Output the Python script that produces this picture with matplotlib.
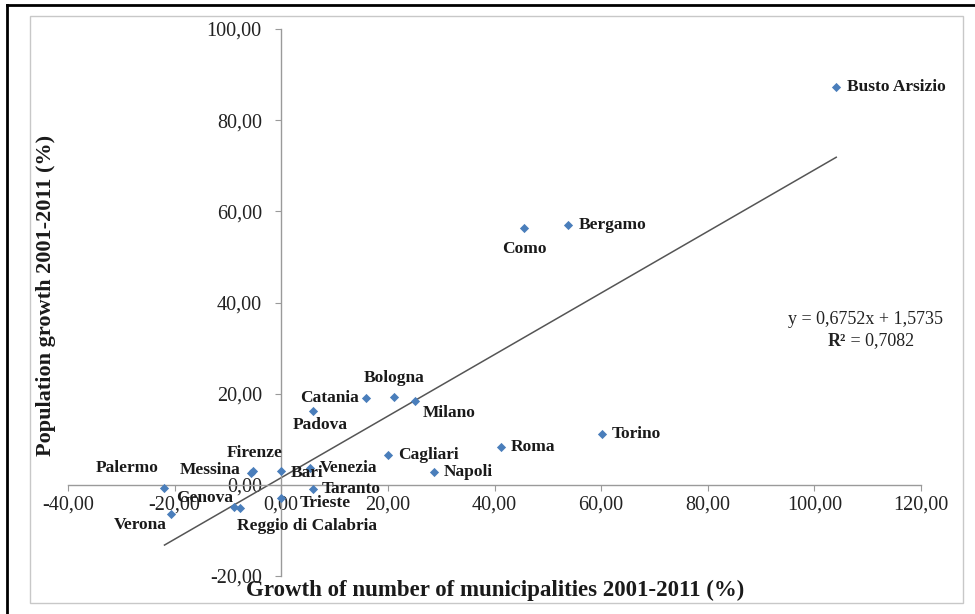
import numpy as np
import matplotlib
matplotlib.use("Agg")
import matplotlib.pyplot as plt
from matplotlib.ticker import FuncFormatter, MultipleLocator
from matplotlib.patches import Rectangle
from matplotlib.lines import Line2D

plt.rcParams["font.family"] = ["Liberation Serif", "DejaVu Serif"]

cities = ["Busto Arsizio", "Bergamo", "Como", "Torino", "Roma", "Napoli", "Cagliari",
          "Milano", "Bologna", "Catania", "Padova", "Venezia", "Taranto", "Bari",
          "Firenze", "Messina", "Palermo", "Verona", "Genova", "Reggio di Calabria", "Trieste"]
muni_growth = [104.1, 53.8, 45.6, 60.2, 41.3, 28.7, 20.1,
               25.0, 21.2, 15.9, 6.0, 5.4, 6.0, 0.0,
               -5.3, -5.6, -21.9, -20.7, -8.8, -7.7, 0.0]
pop_growth = [87.3, 57.0, 56.3, 11.1, 8.3, 2.8, 6.5,
              18.3, 19.2, 19.0, 16.2, 3.7, -0.9, 3.1,
              3.0, 2.7, -0.8, -6.3, -4.8, -5.0, -2.8]

slope, intercept = 0.6752, 1.5735

# label placement: (dx, dy) in points, horizontal alignment
label_pos = {
    "Busto Arsizio": (8, 0, "left"), "Bergamo": (8, 0, "left"), "Como": (0, -15, "center"),
    "Torino": (7, 0, "left"), "Roma": (7, 0, "left"), "Napoli": (7, 0, "left"),
    "Cagliari": (7, 0, "left"), "Milano": (25, -8, "center"), "Bologna": (0, 14, "center"),
    "Catania": (-5, 0, "right"), "Padova": (5, -10, "center"), "Venezia": (7, 0, "left"),
    "Taranto": (6, 0, "left"), "Bari": (7, -2, "left"), "Firenze": (1, 13, "center"),
    "Messina": (-8, 2, "right"), "Palermo": (-4, 15, "right"), "Verona": (-22, -8, "center"),
    "Genova": (-1, 6, "right"), "Reggio di Calabria": (-2, -13, "left"), "Trieste": (13, -4, "left"),
}

fig = plt.figure(figsize=(9.75, 6.14), dpi=100)
ax = fig.add_axes([68 / 975, 1 - 576 / 614, (921 - 68) / 975, (576 - 29) / 614])

ax.set_xlim(-40, 120)
ax.set_ylim(-20, 100)
ax.xaxis.set_major_locator(MultipleLocator(20))
ax.yaxis.set_major_locator(MultipleLocator(20))
fmt = FuncFormatter(lambda v, p: f"{v:.2f}".replace(".", ","))
ax.xaxis.set_major_formatter(fmt)
ax.yaxis.set_major_formatter(fmt)

for s in ["top", "right"]:
    ax.spines[s].set_visible(False)
ax.spines["left"].set_position(("data", 0))
ax.spines["bottom"].set_position(("data", 0))
for s in ["left", "bottom"]:
    ax.spines[s].set_color("#9a9a9a")
    ax.spines[s].set_linewidth(1)
ax.tick_params(direction="out", length=4, color="#9a9a9a", labelsize=14.5, labelcolor="#222222")
ax.tick_params(axis="x", pad=4)
ax.tick_params(axis="y", pad=10)

# trend line
xs = np.array([min(muni_growth), max(muni_growth)])
ax.plot(xs, slope * xs + intercept, color="#555555", lw=1.1, zorder=2)

ax.scatter(muni_growth, pop_growth, marker="D", s=22, color="#4A7EBB", zorder=3, linewidths=0)

for name, x, y in zip(cities, muni_growth, pop_growth):
    dx, dy, ha = label_pos[name]
    ax.annotate(name, (x, y), xytext=(dx, dy), textcoords="offset points",
                ha=ha, va="center", fontsize=12.5, fontweight="bold", color="#1a1a1a", zorder=4)

ax.annotate("y = 0,6752x + 1,5735", (865 / 975, 1 - 320 / 614), xycoords="figure fraction",
            ha="center", va="center", fontsize=13, color="#222222")
ax.annotate("R²", (846 / 975, 1 - 341 / 614), xycoords="figure fraction",
            ha="right", va="center", fontsize=13, fontweight="bold", color="#222222")
ax.annotate(" = 0,7082", (846 / 975, 1 - 341 / 614), xycoords="figure fraction",
            ha="left", va="center", fontsize=13, color="#222222")

fig.text(495 / 975, 1 - 590 / 614, "Growth of number of municipalities 2001-2011 (%)",
         ha="center", va="center", fontsize=16.5, fontweight="bold", color="#1a1a1a")
fig.text(46 / 975, 1 - 295 / 614, "Population growth 2001-2011 (%)", rotation=90,
         ha="center", va="center", fontsize=16, fontweight="bold", color="#1a1a1a")

# chart area border and outer frame
fig.add_artist(Rectangle((30 / 975, 1 - 603 / 614), (963 - 30) / 975, (603 - 16) / 614,
                         transform=fig.transFigure, fill=False, edgecolor="#c8c8c8", lw=1))
fig.add_artist(Line2D([7 / 975, 1], [1 - 5 / 614, 1 - 5 / 614], transform=fig.transFigure,
                      color="black", lw=2))
fig.add_artist(Line2D([7 / 975, 7 / 975], [0, 1 - 5 / 614], transform=fig.transFigure,
                      color="black", lw=2))

fig.savefig("out.png", dpi=100)
